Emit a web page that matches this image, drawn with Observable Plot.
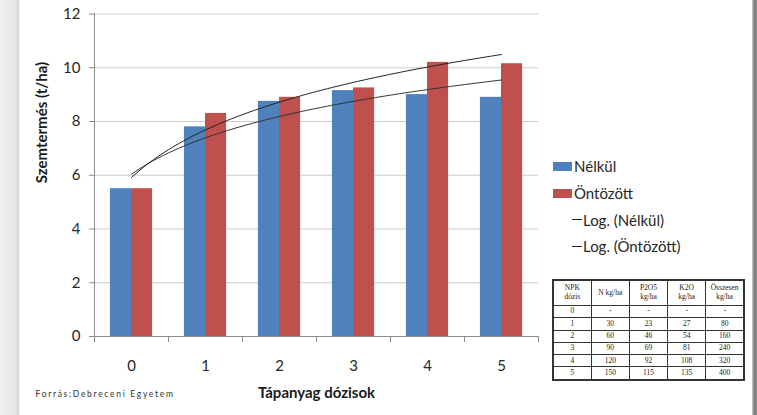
<!DOCTYPE html>
<html>
<head>
<meta charset="utf-8">
<script src="https://cdn.jsdelivr.net/npm/d3@7"></script>
<script src="https://cdn.jsdelivr.net/npm/@observablehq/plot@0.6"></script>
<style>
  body { margin: 0; background: #fff; }
  #wrap { position: relative; width: 757px; height: 415px; overflow: hidden; background: #fff;
          font-family: Lato, "Open Sans", sans-serif; color: #262626; }
  #edgeL { position: absolute; left: 0; top: 0; width: 20px; height: 415px;
           background: linear-gradient(to right, #f0f0f0, #e6e6e6 80%, #d4d4d4 92%, #fff); }
  #edgeR { position: absolute; left: 752px; top: 0; width: 5px; height: 415px;
           background: linear-gradient(to right, #d8d8d8, #8a8a8a 35%, #7c7c7c 75%, #a0a0a0); }
  #chart { position: absolute; left: 0; top: 0; }
  #legend { position: absolute; left: 553px; top: 153px; font-size: 15px; }
  .item { position: relative; height: 26.7px; display: flex; align-items: center; white-space: nowrap; }
  .sw { width: 19px; height: 9px; margin-right: 2px; }
  .ln { width: 10px; height: 1px; margin-left: 19px; margin-right: 1px; }
  #tbl { position: absolute; left: 552px; top: 279px; width: 193px; height: 102px;
         border-collapse: collapse; font-family: "Liberation Serif", serif; font-size: 7.5px;
         color: #222; table-layout: fixed; border: 2px solid #333; }
  #tbl td { border: 1.5px solid #333; text-align: center; padding: 0; line-height: 1.15; white-space: pre-line; }
  #tbl tr.head td { height: 24px; }
</style>
</head>
<body>
<div id="wrap">
  <div id="edgeL"></div>
  <div id="chart"></div>
  <div id="legend"></div>
  <table id="tbl"></table>
  <div id="edgeR"></div>
</div>
<script>
// Nutrient dose levels and grain yield (t/ha) without and with irrigation
const doses = [0, 1, 2, 3, 4, 5];
const nelkul = [5.5, 7.8, 8.75, 9.15, 9.0, 8.9];
const ontozott = [5.5, 8.3, 8.9, 9.25, 10.2, 10.15];
const seriesNames = ["Nélkül", "Öntözött"];
const trendNames = ["Log. (Nélkül)", "Log. (Öntözött)"];
const seriesColors = ["#4f81bd", "#c0504d"];
const yTicks = [0, 2, 4, 6, 8, 10, 12];

const xTitle = "Tápanyag dózisok";
const yTitle = "Szemtermés (t/ha)";
const sourceText = "Forrás:Debreceni Egyetem";

// NPK dose table
const tableHead = ["NPK\ndózis", "N kg/ha", "P2O5\nkg/ha", "K2O\nkg/ha", "Összesen\nkg/ha"];
const npkDose = ["0", "1", "2", "3", "4", "5"];
const nRate = ["-", "30", "60", "90", "120", "150"];
const pRate = ["-", "23", "46", "69", "92", "115"];
const kRate = ["-", "27", "54", "81", "108", "135"];
const totalRate = ["-", "80", "160", "240", "320", "400"];

// bar rows
const rows = doses.flatMap((d, i) => [
  {dose: d, series: seriesNames[0], value: nelkul[i]},
  {dose: d, series: seriesNames[1], value: ontozott[i]}
]);

// logarithmic trendline y = a*ln(k) + b, with k = 1..n (spreadsheet style)
function logTrend(vals) {
  const xs = vals.map((_, i) => Math.log(i + 1));
  const mx = d3.mean(xs), my = d3.mean(vals);
  const a = d3.sum(xs, (x, i) => (x - mx) * (vals[i] - my)) / d3.sum(xs, x => (x - mx) ** 2);
  const b = my - a * mx;
  return d3.range(0, doses.length - 1 + 1e-9, 0.05).map(t => ({dose: t, value: a * Math.log(t + 1) + b}));
}
const trendN = logTrend(nelkul);
const trendO = logTrend(ontozott);

const bw = 0.285; // bar width in dose units
const boundaries = doses.map(d => d - 0.5).concat(doses[doses.length - 1] + 0.5);

const plot = Plot.plot({
  width: 757,
  height: 415,
  marginLeft: 94,
  marginRight: 219,
  marginTop: 13.5,
  marginBottom: 79,
  style: {fontFamily: "Lato, 'Open Sans', sans-serif", background: "transparent", overflow: "visible", color: "#262626"},
  x: {type: "linear", domain: [boundaries[0], boundaries[boundaries.length - 1]]},
  y: {domain: [0, 12]},
  color: {domain: seriesNames, range: seriesColors},
  marks: [
    Plot.gridY(yTicks, {stroke: "#cccccc", strokeOpacity: 1}),
    Plot.rectY(rows, {
      x1: d => d.series === seriesNames[0] ? d.dose - bw : d.dose,
      x2: d => d.series === seriesNames[0] ? d.dose : d.dose + bw,
      y1: 0,
      y2: "value",
      fill: "series"
    }),
    Plot.line(trendN, {x: "dose", y: "value", stroke: "#333", strokeWidth: 1}),
    Plot.line(trendO, {x: "dose", y: "value", stroke: "#222", strokeWidth: 1}),
    Plot.ruleY([0], {stroke: "#8c8c8c"}),
    Plot.ruleX([boundaries[0]], {stroke: "#8c8c8c"}),
    Plot.axisY(yTicks, {tickSize: 5, tickPadding: 9, fontSize: 15, stroke: "#8c8c8c", fill: "#262626", label: null}),
    Plot.axisX(boundaries, {tickSize: 6, tickFormat: () => "", stroke: "#8c8c8c", label: null}),
    Plot.axisX(doses, {tickSize: 0, tickPadding: 24, fontSize: 15, fill: "#262626", label: null}),
    Plot.text([xTitle], {frameAnchor: "bottom", dy: 61, fontSize: 15, fontWeight: "bold", fill: "#1a1a1a"}),
    Plot.text([yTitle], {frameAnchor: "left", rotate: -90, dx: -52, dy: 8, fontSize: 15, fontWeight: "bold", fill: "#1a1a1a"}),
    Plot.text([sourceText], {frameAnchor: "bottom-left", textAnchor: "start", dx: -59, dy: 60.5, fontSize: 8.5, fill: "#333"})
  ]
});
document.getElementById("chart").appendChild(plot);
// the source line is spaced out a little
d3.select(plot).selectAll("text").filter(function () { return this.textContent === sourceText; })
  .attr("letter-spacing", "1.7px");

// legend
const legend = d3.select("#legend");
seriesNames.forEach((name, i) => {
  const it = legend.append("div").attr("class", "item");
  it.append("div").attr("class", "sw").style("background", seriesColors[i]);
  it.append("span").text(name);
});
trendNames.forEach(name => {
  const it = legend.append("div").attr("class", "item");
  it.append("div").attr("class", "ln").style("background", "#222");
  it.append("span").text(name);
});

// dose table
const tbl = d3.select("#tbl");
const head = tbl.append("tr").attr("class", "head");
tableHead.forEach(h => head.append("td").text(h));
npkDose.forEach((d, i) => {
  const tr = tbl.append("tr");
  [d, nRate[i], pRate[i], kRate[i], totalRate[i]].forEach(v => tr.append("td").text(v));
});
</script>
</body>
</html>
